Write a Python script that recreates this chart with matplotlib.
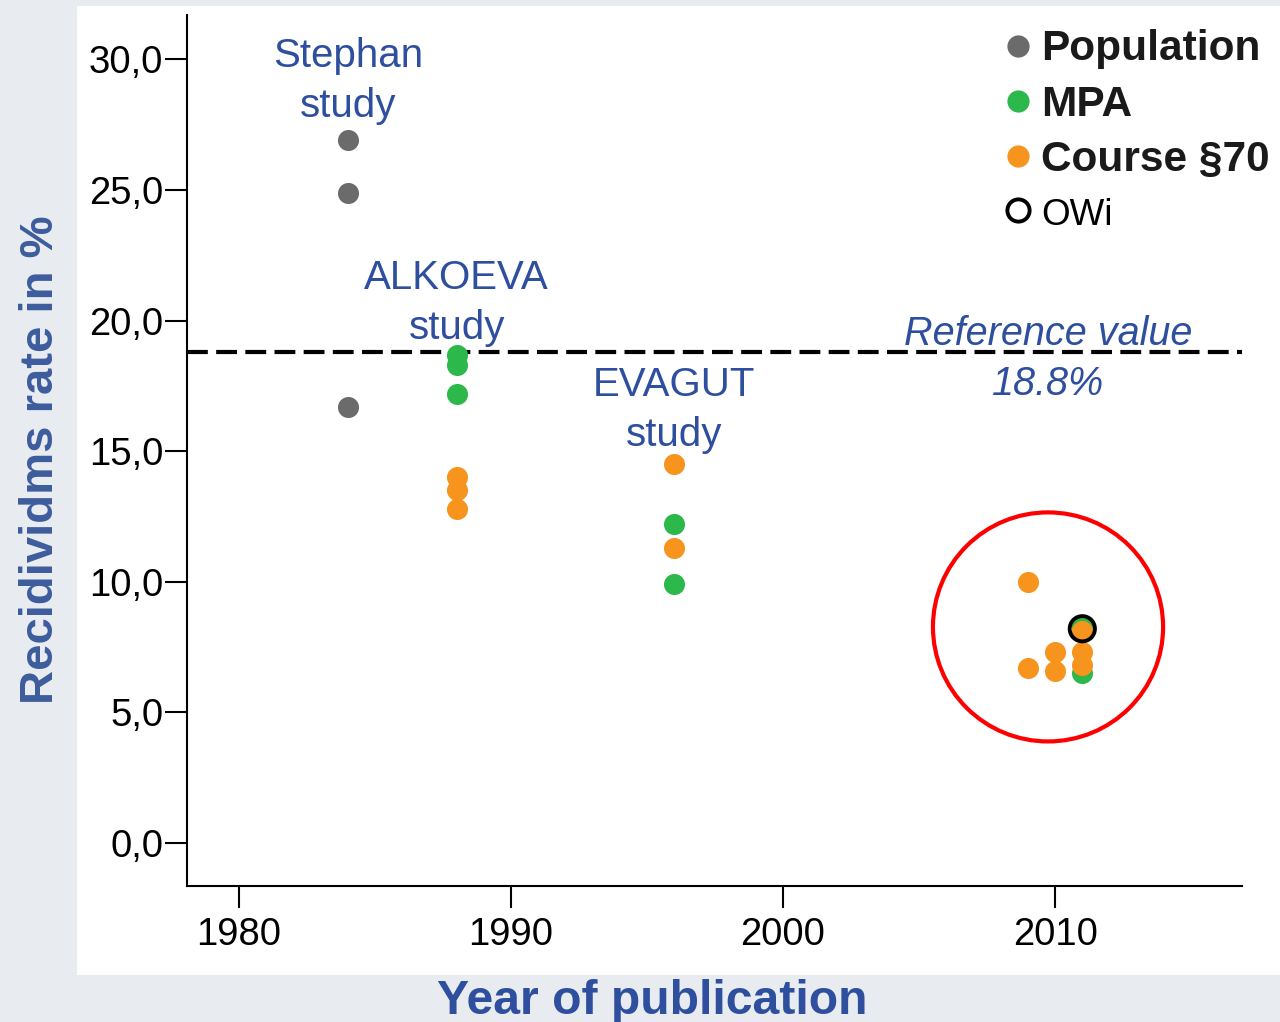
import matplotlib
matplotlib.use('Agg')
import matplotlib.pyplot as plt
from matplotlib.patches import Rectangle, Ellipse
from matplotlib.lines import Line2D

plt.rcParams['font.family'] = ['Liberation Sans', 'DejaVu Sans']

# data
pop_year = [1984, 1984, 1984]
pop_rate = [26.9, 24.9, 16.7]

mpa_year = [1988, 1988, 1988, 1996, 1996, 2011, 2011]
mpa_rate = [18.7, 18.3, 17.2, 12.2, 9.9, 8.3, 6.5]

course_year = [1988, 1988, 1988, 1996, 1996, 2009, 2009, 2010, 2010, 2011, 2011, 2011]
course_rate = [14.0, 13.5, 12.8, 14.5, 11.3, 10.0, 6.7, 7.3, 6.6, 8.1, 7.3, 6.8]

owi_year = [2011]
owi_rate = [8.2]

reference_value = 18.8

studies = ['Stephan\nstudy', 'ALKOEVA\nstudy', 'EVAGUT\nstudy']
study_x = [1984, 1988, 1996]
study_y = [29.17, 20.67, 16.57]

y_ticks = [0, 5, 10, 15, 20, 25, 30]
y_tick_labels = ['0,0', '5,0', '10,0', '15,0', '20,0', '25,0', '30,0']
x_ticks = [1980, 1990, 2000, 2010]

# highlighted group (circle around recent studies)
hl_center = (2009.74, 8.27)
hl_w, hl_h = 8.46, 8.77

grey = '#6b6b6b'
green = '#2db84b'
orange = '#f7941d'
blue = '#2e4e9e'

fig = plt.figure(figsize=(12.8, 10.22), dpi=100)
fig.patch.set_facecolor('#e8ecf0')
fig.patches.append(Rectangle((77 / 1280, 1 - 975 / 1022), 1 - 77 / 1280, 969 / 1022,
                             transform=fig.transFigure, facecolor='white',
                             edgecolor='none', zorder=-1))

ax = fig.add_axes([187 / 1280, 1 - 886 / 1022, 1055 / 1280, 871 / 1022])
ax.set_facecolor('none')
ax.set_zorder(2)

ms = 230
ax.scatter(pop_year, pop_rate, s=ms, color=grey, linewidths=0, zorder=3)
ax.scatter(mpa_year, mpa_rate, s=ms, color=green, linewidths=0, zorder=3)
ax.scatter(course_year, course_rate, s=ms, color=orange, linewidths=0, zorder=4)
ax.scatter(owi_year, owi_rate, s=330, facecolor='none', edgecolor='black',
           linewidths=2.8, zorder=5)

ax.axhline(reference_value, color='black', lw=3, dashes=(5, 2), zorder=2)

for txt, x, y in zip(studies, study_x, study_y):
    ax.text(x, y, txt, ha='center', va='center', fontsize=29, color=blue,
            linespacing=1.42)
ax.text(hl_center[0], reference_value - 0.27,
        'Reference value\n' + f'{reference_value}%', ha='center', va='center',
        fontsize=28.5, color=blue, style='italic', linespacing=1.38)

ax.add_patch(Ellipse(hl_center, hl_w, hl_h, facecolor='none',
                     edgecolor='#ff0000', lw=3, zorder=6))

ax.set_xlim(1978.09, 2016.87)
ax.set_ylim(-1.65, 31.7)
ax.set_xticks(x_ticks)
ax.set_yticks(y_ticks)
ax.set_yticklabels(y_tick_labels)
ax.tick_params(axis='y', length=16, width=1.5, pad=1, labelsize=27.5)
ax.tick_params(axis='x', length=16, width=1.5, pad=6, labelsize=27.5)
for side in ['top', 'right']:
    ax.spines[side].set_visible(False)
for side in ['left', 'bottom']:
    ax.spines[side].set_linewidth(1.5)

ax.set_ylabel('Recidividms rate in %', fontsize=34, fontweight='bold',
              color='#3d5c9c')
ax.yaxis.set_label_coords(-0.118, 0.489)
ax.set_xlabel('Year of publication', fontsize=34.7, fontweight='bold', color=blue)
ax.xaxis.set_label_coords(0.4408, -0.107)

handles = [
    Line2D([], [], marker='o', ls='none', markersize=16, color=grey, markeredgewidth=0),
    Line2D([], [], marker='o', ls='none', markersize=16, color=green, markeredgewidth=0),
    Line2D([], [], marker='o', ls='none', markersize=16, color=orange, markeredgewidth=0),
    Line2D([], [], marker='o', ls='none', markersize=16, markerfacecolor='none',
           markeredgecolor='black', markeredgewidth=2.8),
]
leg = ax.legend(handles, ['Population', 'MPA', 'Course §70', 'OWi'],
                loc='upper right', bbox_to_anchor=(1.0423, 1.003), frameon=False,
                prop={'size': 30.5, 'weight': 'bold'}, handletextpad=0.05,
                labelspacing=0.36, handlelength=1.0, borderaxespad=0)
leg.get_texts()[3].set_fontweight('normal')
leg.get_texts()[3].set_fontsize(26.5)
for t in leg.get_texts()[:3]:
    t.set_color('#1a1a1a')

fig.savefig('out.png', dpi=100, facecolor=fig.get_facecolor())
